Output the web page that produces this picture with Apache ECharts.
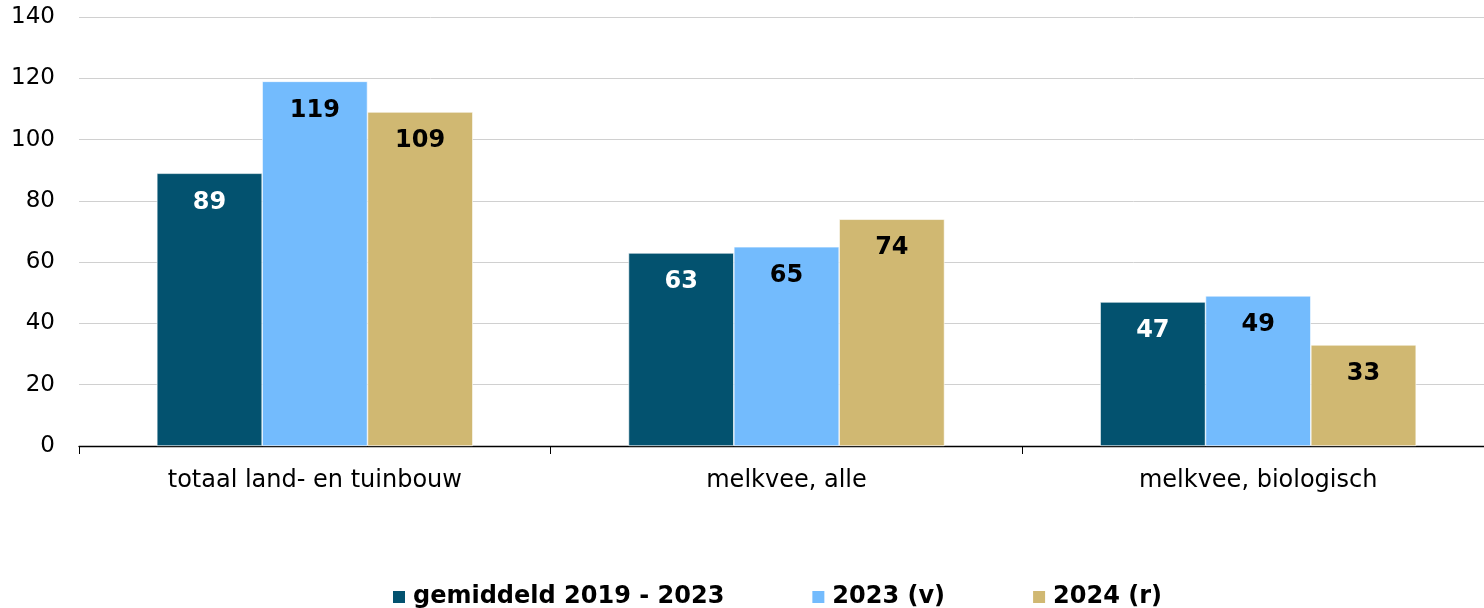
<!DOCTYPE html>
<html><head><meta charset="utf-8">
<script src="https://cdn.jsdelivr.net/npm/echarts@6/dist/echarts.min.js"></script>
<style>html,body{margin:0;padding:0;background:#fff}#c{width:1484px;height:608px}</style>
</head><body><div id="c"></div>
<script>
const categories = ['totaal land- en tuinbouw', 'melkvee, alle', 'melkvee, biologisch'];
const seriesNames = ['gemiddeld 2019 - 2023', '2023 (v)', '2024 (r)'];
const avg2019_2023 = [89, 63, 47];
const v2023 = [119, 65, 49];
const r2024 = [109, 74, 33];
const colors = ['#03526F', '#73BBFD', '#D0B872'];
const labelColors = ['#ffffff', '#000000', '#000000'];
const values = [avg2019_2023, v2023, r2024];
const font = 'DejaVu Sans';

const chart = echarts.init(document.getElementById('c'), null, {renderer: 'canvas'});
chart.setOption({
  animation: false,
  textStyle: {fontFamily: font},
  grid: {left: 79, width: 1415, top: 17, bottom: 162, containLabel: false, outerBoundsMode: 'none'},
  legend: {
    top: 585, left: 391, padding: 0,
    itemWidth: 14, itemHeight: 14, itemGap: 86,
    icon: 'rect',
    textStyle: {fontFamily: font, fontSize: 24, fontWeight: 'bold', color: '#000', padding: [0, 0, 0, 2]},
    data: seriesNames
  },
  xAxis: {
    type: 'category', data: categories,
    axisLine: {lineStyle: {color: '#000', width: 1.3}},
    axisTick: {show: true, length: 8, lineStyle: {color: '#000'}},
    axisLabel: {fontFamily: font, fontSize: 24, color: '#000', margin: 23}
  },
  yAxis: {
    type: 'value', min: 0, max: 140, interval: 20,
    axisLine: {show: false}, axisTick: {show: false},
    splitLine: {lineStyle: {color: '#D0D0D0', width: 1}},
    axisLabel: {fontFamily: font, fontSize: 23, color: '#000', margin: 24}
  },
  series: seriesNames.map((n, i) => ({
    name: n, type: 'bar', data: values[i],
    barGap: '0%', barCategoryGap: '33%',
    itemStyle: {color: colors[i], borderColor: '#fff', borderWidth: 0.6},
    label: {show: true, position: 'insideTop', distance: 17, color: labelColors[i],
            fontFamily: font, fontSize: 24, fontWeight: 'bold'}
  }))
});
</script></body></html>
